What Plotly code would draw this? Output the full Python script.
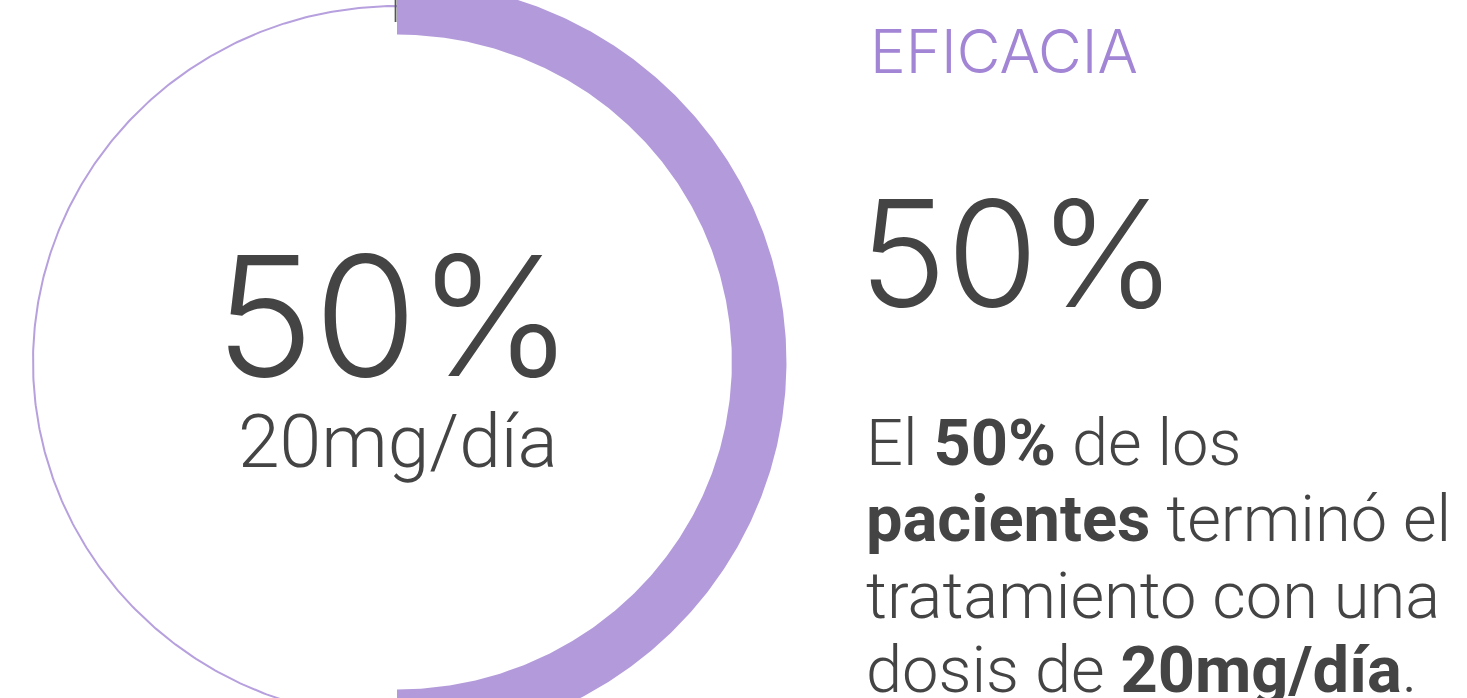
import numpy as np
import plotly.graph_objects as go

# ---- data ----
value_pct = 50                 # share of patients
dose_label = "20mg/día"
title_label = "EFICACIA"
para_lines = [
    "El <b>50%</b> de los",
    "<b>pacientes</b> terminó el",
    "tratamiento con una",
    "dosis de <b>20mg/día</b>.",
]

W, H = 1467, 698
PURPLE = "#b39bdb"
PURPLE_LINE = "#b7a0de"
PURPLE_TEXT = "#a385d6"
GREY = "#444444"
MIDS = {"Inter": 0.41, "Roboto": 0.342}  # baseline -> box middle, in em

# axis units: ring radius = 1 ; px per unit
PX_X, PX_Y = 364.0, 356.0
CX, CY = 397.0, 362.0  # centre in px (from top-left)
x_range = [-CX / PX_X, (W - CX) / PX_X]
y_range = [-(H - CY) / PX_Y, CY / PX_Y]

fig = go.Figure()

# thin full ring
t = np.linspace(0, 2 * np.pi, 721)
fig.add_trace(go.Scatter(x=np.cos(t), y=np.sin(t), mode="lines",
                         line=dict(color=PURPLE_LINE, width=2),
                         hoverinfo="skip", showlegend=False))

# thick arc for the value (clockwise from 12 o'clock)
r_in, r_out = 0.92, 1.07
ang = np.pi / 2 - np.linspace(0, 2 * np.pi * value_pct / 100, 400)
xs = np.concatenate([r_out * np.cos(ang), r_in * np.cos(ang[::-1])])
ys = np.concatenate([r_out * np.sin(ang), r_in * np.sin(ang[::-1])])
fig.add_trace(go.Scatter(x=np.append(xs, xs[0]), y=np.append(ys, ys[0]),
                         mode="lines", fill="toself", fillcolor=PURPLE,
                         line=dict(width=0, color=PURPLE),
                         hoverinfo="skip", showlegend=False))

# small start tick
fig.add_trace(go.Scatter(x=[-0.004, -0.004], y=[0.955, 1.2], mode="lines",
                         line=dict(color="#555555", width=1.8),
                         hoverinfo="skip", showlegend=False))


def px2paper(xp, yp):
    return xp / W, 1 - yp / H


def ann(text, xp, baseline, size, font="Roboto", color=GREY, weight=300,
        xanchor="center"):
    x, y = px2paper(xp, baseline - MIDS[font] * size)
    fig.add_annotation(text=text, x=x, y=y, xref="paper", yref="paper",
                       xanchor=xanchor, yanchor="middle", showarrow=False,
                       font=dict(family=font, size=size, color=color, weight=weight))


# centre labels
ann(f"{value_pct}%", 395, 383, 167, font="Inter")
ann(dose_label, 398, 467, 75, font="Roboto")

# right side
ann(title_label, 868, 76, 60, font="Inter", color=PURPLE_TEXT, xanchor="left")
ann(f"{value_pct}%", 857, 314, 148, font="Inter", xanchor="left")
baselines = [465, 541, 618, 692]
for line, b in zip(para_lines, baselines):
    ann(line, 864, b, 65, font="Roboto", xanchor="left")

fig.update_xaxes(range=x_range, visible=False, fixedrange=True)
fig.update_yaxes(range=y_range, visible=False, fixedrange=True)
fig.update_layout(width=W, height=H, margin=dict(l=0, r=0, t=0, b=0),
                  paper_bgcolor="white", plot_bgcolor="white")

fig.write_html("out.html", config={"displayModeBar": False},
               post_script="document.body.style.margin='0';")
